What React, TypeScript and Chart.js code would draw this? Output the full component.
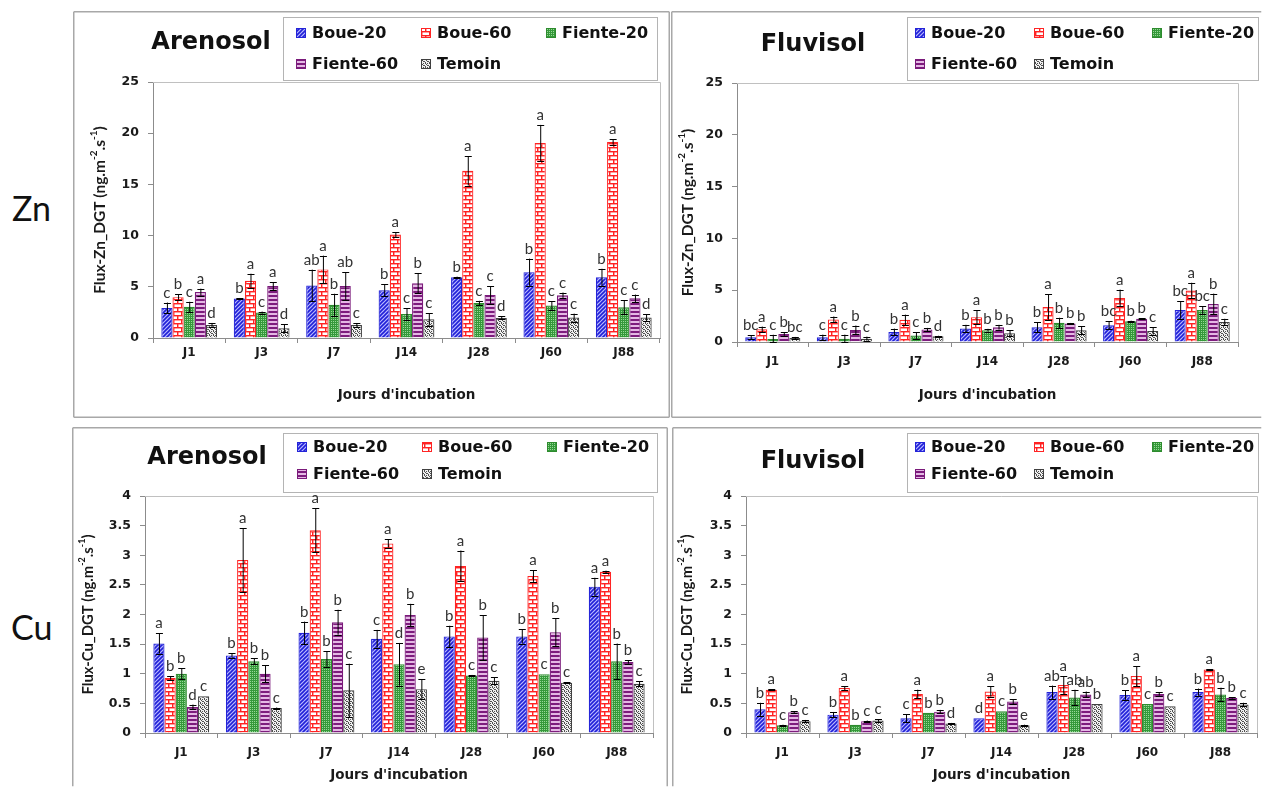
import React, { useEffect, useRef } from "react";
import { Chart, registerables } from "chart.js";
Chart.register(...registerables);

// ---------- data ----------
const days = ["J1", "J3", "J7", "J14", "J28", "J60", "J88"];
const seriesNames = ["Boue-20", "Boue-60", "Fiente-20", "Fiente-60", "Temoin"];
const znTicks = [0, 5, 10, 15, 20, 25];
const cuTicks = [0, 0.5, 1, 1.5, 2, 2.5, 3, 3.5, 4];
const xAxisTitle = "Jours d'incubation";
const soilTitles = ["Arenosol", "Fluvisol"];
const metals = ["Zn", "Cu"];

// Zn - Arenosol (one row per series: Boue-20, Boue-60, Fiente-20, Fiente-60, Temoin)
const znAreMeans = [
  [2.94, 3.86, 5.13, 4.67, 5.94, 6.43, 5.94],
  [3.99, 5.59, 6.7, 10.1, 16.33, 19.05, 19.15],
  [3.04, 2.48, 3.24, 2.35, 3.43, 3.17, 3.0],
  [4.48, 5.07, 5.07, 5.35, 4.21, 4.18, 3.88],
  [1.27, 0.95, 1.27, 1.82, 1.96, 1.99, 1.99],
];
const znAreErr = [
  [0.52, 0.05, 1.55, 0.6, 0.05, 1.32, 0.82],
  [0.26, 0.69, 1.34, 0.25, 1.44, 1.76, 0.26],
  [0.5, 0.1, 1.08, 0.56, 0.2, 0.42, 0.7],
  [0.34, 0.39, 1.34, 1.0, 0.85, 0.26, 0.36],
  [0.2, 0.39, 0.18, 0.62, 0.15, 0.39, 0.31],
];
const znAreLetters = [
  ["c", "b", "ab", "b", "b", "b", "b"],
  ["b", "a", "a", "a", "a", "a", "a"],
  ["c", "c", "b", "c", "c", "c", "c"],
  ["a", "a", "ab", "b", "c", "c", "c"],
  ["d", "d", "c", "c", "d", "c", "d"],
];

// Zn - Fluvisol
const znFluMeans = [
  [0.45, 0.45, 0.97, 1.3, 1.43, 1.62, 3.08],
  [1.23, 2.18, 2.14, 2.4, 3.38, 4.25, 4.97],
  [0.3, 0.32, 0.62, 1.14, 1.85, 2.01, 3.08],
  [0.78, 1.17, 1.2, 1.43, 1.79, 2.24, 3.67],
  [0.39, 0.32, 0.55, 0.84, 1.14, 1.07, 1.92],
];
const znFluErr = [
  [0.2, 0.26, 0.32, 0.36, 0.49, 0.39, 0.84],
  [0.26, 0.28, 0.5, 0.65, 1.22, 0.81, 0.75],
  [0.4, 0.39, 0.32, 0.13, 0.49, 0.05, 0.36],
  [0.18, 0.42, 0.16, 0.23, 0.05, 0.05, 1.0],
  [0.1, 0.2, 0.05, 0.29, 0.37, 0.36, 0.32],
];
const znFluLetters = [
  ["bc", "c", "b", "b", "b", "bc", "bc"],
  ["a", "a", "a", "a", "a", "a", "a"],
  ["c", "c", "c", "b", "b", "b", "bc"],
  ["b", "b", "b", "b", "b", "b", "b"],
  ["bc", "c", "d", "b", "b", "c", "c"],
];

// Cu - Arenosol
const cuAreMeans = [
  [1.51, 1.31, 1.69, 1.59, 1.63, 1.63, 2.47],
  [0.93, 2.92, 3.42, 3.2, 2.82, 2.65, 2.72],
  [1.0, 1.21, 1.25, 1.16, 0.97, 0.99, 1.21],
  [0.44, 1.0, 1.87, 1.99, 1.61, 1.7, 1.2],
  [0.62, 0.42, 0.72, 0.74, 0.88, 0.85, 0.83],
];
const cuAreErr = [
  [0.17, 0.04, 0.19, 0.15, 0.18, 0.12, 0.15],
  [0.03, 0.54, 0.37, 0.07, 0.26, 0.1, 0.02],
  [0.09, 0.05, 0.13, 0.36, 0.01, 0.0, 0.3],
  [0.04, 0.14, 0.21, 0.19, 0.38, 0.24, 0.03],
  [0.0, 0.01, 0.45, 0.17, 0.06, 0.01, 0.04],
];
const cuAreLetters = [
  ["a", "b", "b", "c", "b", "b", "a"],
  ["b", "a", "a", "a", "a", "a", "a"],
  ["b", "b", "b", "d", "c", "c", "b"],
  ["d", "b", "b", "b", "b", "b", "b"],
  ["c", "c", "c", "e", "c", "c", "c"],
];

// Cu - Fluvisol
const cuFluMeans = [
  [0.4, 0.31, 0.25, 0.25, 0.69, 0.64, 0.69],
  [0.73, 0.76, 0.66, 0.7, 0.81, 0.96, 1.07],
  [0.13, 0.14, 0.34, 0.365, 0.6, 0.49, 0.65],
  [0.35, 0.2, 0.36, 0.53, 0.65, 0.66, 0.59],
  [0.2, 0.21, 0.16, 0.13, 0.49, 0.45, 0.48],
];
const cuFluErr = [
  [0.11, 0.045, 0.065, 0.0, 0.11, 0.08, 0.06],
  [0.01, 0.03, 0.07, 0.085, 0.15, 0.17, 0.01],
  [0.01, 0.0, 0.0, 0.0, 0.13, 0.0, 0.115],
  [0.02, 0.01, 0.03, 0.04, 0.05, 0.03, 0.01],
  [0.02, 0.02, 0.01, 0.01, 0.0, 0.0, 0.03],
];
const cuFluLetters = [
  ["b", "b", "c", "d", "ab", "b", "b"],
  ["a", "a", "a", "a", "a", "a", "a"],
  ["c", "b", "b", "c", "ab", "c", "b"],
  ["b", "c", "b", "b", "ab", "b", "b"],
  ["c", "c", "d", "e", "b", "c", "c"],
];

// ---------- styles ----------
const FONT = "Lato, 'DejaVu Sans', sans-serif";
const WIDE = "'DejaVu Sans', Verdana, sans-serif";
const borderColors = ["#2424d8", "#ff2424", "#2e8b2e", "#7a1a7a", "#404040"];
const X_TITLE_SIZE = 13.5;

function makePattern(kind: number): CanvasPattern | string {
  const c = document.createElement("canvas");
  const g = c.getContext("2d") as CanvasRenderingContext2D;
  if (kind === 0) {
    c.width = 4; c.height = 4;
    g.fillStyle = "#b8b8ff"; g.fillRect(0, 0, 4, 4);
    g.strokeStyle = "#2020d8"; g.lineWidth = 1.6;
    g.beginPath();
    g.moveTo(-1, 5); g.lineTo(5, -1);
    g.moveTo(-1, 1); g.lineTo(1, -1);
    g.moveTo(3, 5); g.lineTo(5, 3);
    g.stroke();
  } else if (kind === 1) {
    c.width = 8; c.height = 8;
    g.fillStyle = "#ffffff"; g.fillRect(0, 0, 8, 8);
    g.fillStyle = "#ff2222";
    g.fillRect(0, 0, 8, 1); g.fillRect(0, 4, 8, 1);
    g.fillRect(0, 0, 1, 4); g.fillRect(4, 4, 1, 4);
    g.fillStyle = "rgba(255,40,40,0.45)";
    g.fillRect(0, 1, 8, 1); g.fillRect(0, 5, 8, 1);
    g.fillRect(1, 1, 1, 3); g.fillRect(5, 5, 1, 3);
  } else if (kind === 2) {
    c.width = 2; c.height = 2;
    g.fillStyle = "#35993a"; g.fillRect(0, 0, 2, 2);
    g.fillStyle = "#98d898"; g.fillRect(0, 0, 1, 1);
  } else if (kind === 3) {
    c.width = 4; c.height = 4;
    g.fillStyle = "#e4b8e4"; g.fillRect(0, 0, 4, 4);
    g.fillStyle = "#7d1c7d"; g.fillRect(0, 0, 4, 2);
  } else {
    c.width = 4; c.height = 4;
    g.fillStyle = "#f0f0f0"; g.fillRect(0, 0, 4, 4);
    g.fillStyle = "#505050";
    g.fillRect(0, 0, 1, 1); g.fillRect(2, 0, 1, 1);
    g.fillRect(1, 1, 1, 1); g.fillRect(3, 2, 1, 1);
    g.fillRect(0, 3, 1, 1); g.fillRect(2, 2, 1, 1);
  }
  return g.createPattern(c, "repeat") || "#888";
}

// ---------- panel layout ----------
const panels = [
  {
    metal: metals[0], soil: soilTitles[0], ticks: znTicks,
    means: znAreMeans, errs: znAreErr, letters: znAreLetters,
    L: 73, T: 11, W: 597, H: 407,
    area: { l: 80, t: 71, r: 587, b: 327 },
    xTitleY: 384, yTitleX: 27, yTitleSize: 15.5, xTickPad: 3,
    titleX: 138, titleY: 32,
    legend: { x: 210, y: 6, w: 374, h: 63, cols: [223, 348, 473], rows: [22, 53] },
    edges: { left: true, top: true, right: true, bottom: true },
  },
  {
    metal: metals[0], soil: soilTitles[1], ticks: znTicks,
    means: znFluMeans, errs: znFluErr, letters: znFluLetters,
    L: 671, T: 11, W: 591, H: 407,
    area: { l: 66, t: 72, r: 567, b: 331 },
    xTitleY: 384, yTitleX: 17, yTitleSize: 15.5, xTickPad: 8,
    titleX: 142, titleY: 34,
    legend: { x: 236, y: 6, w: 351, h: 63, cols: [244, 363, 481], rows: [22, 53] },
    edges: { left: true, top: true, right: false, bottom: true },
  },
  {
    metal: metals[1], soil: soilTitles[0], ticks: cuTicks,
    means: cuAreMeans, errs: cuAreErr, letters: cuAreLetters,
    L: 72, T: 427, W: 596, H: 360,
    area: { l: 73, t: 69, r: 581, b: 306 },
    xTitleY: 348, yTitleX: 16, yTitleSize: 14.8, xTickPad: 8,
    titleX: 135, titleY: 31,
    legend: { x: 211, y: 6, w: 374, h: 59, cols: [225, 350, 475], rows: [20, 47] },
    edges: { left: true, top: true, right: true, bottom: false },
  },
  {
    metal: metals[1], soil: soilTitles[1], ticks: cuTicks,
    means: cuFluMeans, errs: cuFluErr, letters: cuFluLetters,
    L: 672, T: 427, W: 590, H: 360,
    area: { l: 74, t: 69, r: 585, b: 306 },
    xTitleY: 348, yTitleX: 15, yTitleSize: 14.8, xTickPad: 8,
    titleX: 141, titleY: 35,
    legend: { x: 235, y: 6, w: 351, h: 59, cols: [243, 362, 480], rows: [20, 47] },
    edges: { left: true, top: true, right: false, bottom: false },
  },
];

function drawYTitle(ctx: CanvasRenderingContext2D, x: number, yc: number, metal: string, size: number) {
  const parts: [string, boolean][] = [
    ["Flux-" + metal + "_DGT (ng.m", false],
    ["-2", true],
    [".s", false],
    ["-1", true],
    [")", false],
  ];
  const mainF = `bold ${size}px ${FONT}`;
  const supF = `bold ${Math.round(size * 0.62)}px ${FONT}`;
  let total = 0;
  const widths = parts.map(([t, sup]) => {
    ctx.font = sup ? supF : mainF;
    const w = ctx.measureText(t).width;
    total += w;
    return w;
  });
  ctx.save();
  ctx.translate(x, yc);
  ctx.rotate(-Math.PI / 2);
  ctx.fillStyle = "#1a1a1a";
  ctx.textAlign = "left";
  ctx.textBaseline = "middle";
  let cx = -total / 2;
  parts.forEach(([t, sup], i) => {
    ctx.font = sup ? supF : mainF;
    ctx.fillText(t, cx, sup ? -size * 0.38 : 0);
    cx += widths[i];
  });
  ctx.restore();
}

function Panel({ cfg }: { cfg: any }) {
  const ref = useRef<HTMLCanvasElement>(null);
  useEffect(() => {
    const canvas = ref.current as HTMLCanvasElement;
    const patterns = seriesNames.map((_, i) => makePattern(i));
    const a = cfg.area;
    const halfTitle = (X_TITLE_SIZE * 1.2) / 2;
    const padBottom = cfg.H - cfg.xTitleY - halfTitle;
    const xH = cfg.xTitleY + halfTitle - a.b;

    const decor = {
      id: "decor" + cfg.soil + cfg.metal,
      beforeDraw(chart: any) {
        const ctx = chart.ctx as CanvasRenderingContext2D;
        ctx.save();
        ctx.fillStyle = "#ffffff";
        ctx.fillRect(0, 0, cfg.W, cfg.H);
        // panel frame
        ctx.strokeStyle = "#a8a8a8";
        ctx.lineWidth = 1.5;
        ctx.beginPath();
        const e = cfg.edges;
        const x0 = 0.75, y0 = 0.75, x1 = cfg.W - 0.75, y1 = cfg.H - 0.75;
        if (e.left) { ctx.moveTo(x0, y0); ctx.lineTo(x0, y1); }
        if (e.top) { ctx.moveTo(x0, y0); ctx.lineTo(x1, y0); }
        if (e.right) { ctx.moveTo(x1, y0); ctx.lineTo(x1, y1); }
        if (e.bottom) { ctx.moveTo(x0, y1); ctx.lineTo(x1, y1); }
        ctx.stroke();
        // title
        ctx.fillStyle = "#111";
        ctx.font = `bold 24px ${WIDE}`;
        ctx.textAlign = "center";
        ctx.textBaseline = "middle";
        ctx.fillText(cfg.soil, cfg.titleX, cfg.titleY);
        // legend
        const lg = cfg.legend;
        ctx.strokeStyle = "#b4b4b4";
        ctx.lineWidth = 1;
        ctx.strokeRect(lg.x + 0.5, lg.y + 0.5, lg.w, lg.h);
        ctx.font = `bold 16px ${WIDE}`;
        ctx.textAlign = "left";
        seriesNames.forEach((name, i) => {
          const col = lg.cols[i % 3];
          const row = lg.rows[Math.floor(i / 3)];
          ctx.fillStyle = patterns[i] as any;
          ctx.fillRect(col, row - 5, 10, 10);
          ctx.strokeStyle = borderColors[i];
          ctx.strokeRect(col + 0.5, row - 4.5, 9, 9);
          ctx.fillStyle = "#111";
          ctx.fillText(name, col + 16, row + 1);
        });
        // y axis title
        drawYTitle(ctx, cfg.yTitleX, (a.t + a.b) / 2, cfg.metal, cfg.yTitleSize);
        ctx.restore();
      },
      beforeDatasetsDraw(chart: any) {
        const ctx = chart.ctx as CanvasRenderingContext2D;
        const ca = chart.chartArea;
        ctx.save();
        ctx.strokeStyle = "#c0c0c0";
        ctx.lineWidth = 1;
        ctx.beginPath();
        ctx.moveTo(ca.left, ca.top + 0.5);
        ctx.lineTo(ca.right + 0.5, ca.top + 0.5);
        ctx.lineTo(ca.right + 0.5, ca.bottom);
        ctx.stroke();
        ctx.restore();
      },
      afterDatasetsDraw(chart: any) {
        const ctx = chart.ctx as CanvasRenderingContext2D;
        const ys = chart.scales.y;
        ctx.save();
        chart.data.datasets.forEach((_: any, di: number) => {
          const meta = chart.getDatasetMeta(di);
          meta.data.forEach((el: any, i: number) => {
            const v = cfg.means[di][i];
            const er = cfg.errs[di][i];
            const x = el.x;
            const yt = ys.getPixelForValue(v + er);
            const yb = ys.getPixelForValue(Math.max(0, v - er));
            ctx.strokeStyle = "#000";
            ctx.lineWidth = 1;
            if (er > 0) {
              ctx.beginPath();
              ctx.moveTo(x + 0.5, yt);
              ctx.lineTo(x + 0.5, yb);
              ctx.moveTo(x - 3, Math.round(yt) + 0.5);
              ctx.lineTo(x + 4, Math.round(yt) + 0.5);
              ctx.moveTo(x - 3, Math.round(yb) + 0.5);
              ctx.lineTo(x + 4, Math.round(yb) + 0.5);
              ctx.stroke();
            }
            const top = Math.min(el.y, yt);
            ctx.fillStyle = "#333";
            ctx.font = `15px ${FONT}`;
            ctx.textAlign = "center";
            ctx.textBaseline = "alphabetic";
            ctx.fillText(cfg.letters[di][i], x, top - 5);
          });
        });
        ctx.restore();
      },
    };

    const chart = new Chart(canvas, {
      type: "bar",
      data: {
        labels: days,
        datasets: seriesNames.map((name, i) => ({
          label: name,
          data: cfg.means[i],
          backgroundColor: patterns[i] as any,
          borderColor: borderColors[i],
          borderWidth: 1.2,
          categoryPercentage: 0.77,
          barPercentage: 1,
        })),
      },
      options: {
        responsive: false,
        animation: false,
        devicePixelRatio: 1,
        events: [],
        layout: {
          padding: { left: 0, top: a.t, right: cfg.W - a.r, bottom: padBottom },
        },
        plugins: {
          legend: { display: false },
          tooltip: { enabled: false },
          title: { display: false },
        },
        scales: {
          x: {
            type: "category",
            offset: true,
            grid: { offset: true, drawOnChartArea: false, tickLength: 5, color: "#8c8c8c" },
            border: { color: "#8c8c8c", width: 1 },
            ticks: {
              padding: cfg.xTickPad,
              color: "#1a1a1a",
              maxRotation: 0,
              autoSkip: false,
              font: { family: WIDE, weight: "bold", size: 12 },
            },
            title: {
              display: true,
              text: xAxisTitle,
              color: "#1a1a1a",
              padding: { top: 0, bottom: 0 },
              font: { family: WIDE, weight: "bold", size: X_TITLE_SIZE },
            },
            afterFit: (s: any) => { s.height = xH; },
          },
          y: {
            min: cfg.ticks[0],
            max: cfg.ticks[cfg.ticks.length - 1],
            afterBuildTicks: (s: any) => { s.ticks = cfg.ticks.map((v: number) => ({ value: v })); },
            grid: { drawOnChartArea: false, tickLength: 5, color: "#8c8c8c" },
            border: { color: "#8c8c8c", width: 1 },
            ticks: {
              padding: 9,
              color: "#1a1a1a",
              font: { family: WIDE, weight: "bold", size: 12.5 },
              callback: (v: any) => String(v),
            },
            afterFit: (s: any) => { s.width = a.l; },
          },
        },
      } as any,
      plugins: [decor],
    });
    return () => chart.destroy();
  }, [cfg]);
  return (
    <canvas
      ref={ref}
      width={cfg.W}
      height={cfg.H}
      style={{ position: "absolute", left: cfg.L, top: cfg.T, width: cfg.W, height: cfg.H }}
    />
  );
}

export default function App() {
  return (
    <div
      style={{
        position: "fixed",
        left: 0,
        top: 0,
        width: 1262,
        height: 787,
        background: "#ffffff",
        overflow: "hidden",
        fontFamily: FONT,
      }}
    >
      {panels.map((p, i) => (
        <Panel key={i} cfg={p} />
      ))}
      <div style={{ position: "absolute", left: 12, top: 188, fontSize: 34, color: "#111", lineHeight: "40px" }}>
        {metals[0]}
      </div>
      <div style={{ position: "absolute", left: 11, top: 607, fontSize: 34, color: "#111", lineHeight: "40px" }}>
        {metals[1]}
      </div>
    </div>
  );
}
